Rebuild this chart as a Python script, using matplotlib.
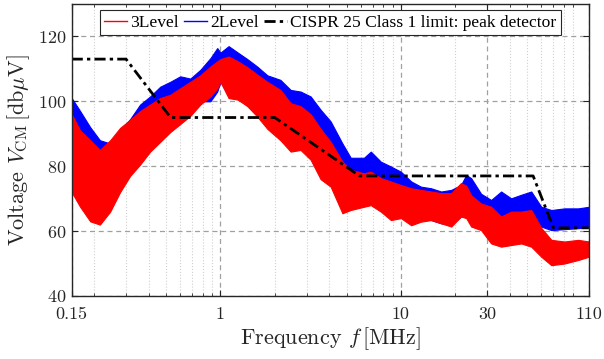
import matplotlib
matplotlib.use('Agg')
from matplotlib import pyplot as plt
from matplotlib.ticker import LogLocator, NullFormatter

plt.rcParams['font.family'] = 'serif'
plt.rcParams['font.serif'] = ['cmr10', 'DejaVu Serif']
plt.rcParams['mathtext.fontset'] = 'cm'
plt.rcParams['axes.formatter.use_mathtext'] = True

# frequency grid (MHz) at which the envelopes were read
freq = [0.15, 0.167, 0.19, 0.215, 0.245, 0.278, 0.316, 0.359, 0.408, 0.464,
        0.527, 0.599, 0.681, 0.774, 0.88, 0.96, 1.0, 1.11, 1.25, 1.41,
        1.6, 1.82, 2.15, 2.45, 2.78, 3.16, 3.59, 4.08, 4.74, 5.27,
        6.24, 6.81, 7.74, 8.8, 10, 11.4, 12.9, 14.7, 16.7, 19.0,
        21.5, 23.0, 24.5, 27.8, 31.6, 35.9, 40.8, 46.4, 52.7, 59.9,
        68.1, 80.5, 96, 110]

# 2Level (blue) upper / lower envelope, dBuV
blue_hi = [101, 97, 92, 88, 87, 91, 94.5, 99, 101.5, 104.5,
           106, 107.7, 107, 109.7, 113.3, 116.4, 115, 117, 115, 113,
           110.7, 108, 106.6, 103.5, 103, 101.5, 97.4, 93.8, 87, 82.6,
           82.6, 84.5, 81.4, 79.9, 78.3, 75.3, 73.7, 73.2, 72.2, 72.7,
           74.2, 77.3, 76.3, 71.5, 69.6, 72.2, 70.1, 71.2, 72.2, 67.5,
           66.5, 67, 67, 67.5]
blue_lo = [74, 69, 68, 70, 72, 75, 79, 83, 86, 89,
           92, 94, 97, 100, 100, 103, 106, 102, 102, 100,
           97, 94, 92, 88, 88, 85, 80, 77, 72, 70,
           70, 70, 68, 66, 66, 64, 64, 63.4, 62.4, 62,
           64.5, 65, 64.5, 61, 62, 62, 62, 62, 62, 61.4,
           60.3, 60.6, 60.9, 61.4]

# 3Level (red) upper / lower envelope, dBuV
red_hi = [96, 91, 88, 85, 88, 91.8, 94.3, 97, 99, 101,
          102, 104, 106, 108, 110.7, 112.3, 113, 113.8, 112.3, 110.5,
          108.2, 106, 103.5, 99.4, 98.5, 96, 91.5, 87.5, 81.4, 78.9,
          77.8, 78.3, 76.3, 75.3, 74.2, 73.2, 72.7, 72.2, 71.7, 71.7,
          74.8, 74, 71, 68.5, 67.5, 64.5, 66, 66, 66.5, 61,
          57.3, 56.8, 57.3, 56.8]
red_lo = [72, 67.5, 63, 62, 66, 72, 77, 80.5, 84.5, 87.5,
          90.5, 93, 95.5, 99, 101.5, 104, 106, 101, 100.5, 98.5,
          95.3, 91.5, 88, 84.5, 85, 82, 76, 73.7, 65.5, 66.5,
          67.5, 68, 66, 63.4, 64, 61.8, 62.9, 63.4, 62.4, 61.4,
          64.5, 64, 61.4, 60.3, 56.2, 55.2, 55.7, 56.2, 55.2, 52.1,
          49.5, 50, 51.1, 52.1]

# CISPR 25 class 1 peak limit
lim_f = [0.15, 0.3, 0.53, 2.0, 5.9, 54, 70, 110]
lim_v = [113, 113, 95, 95, 77, 77, 61, 61]

xticks = [0.15, 1, 10, 30, 110]
xticklabels = ['0.15', '1', '10', '30', '110']
yticks = [40, 60, 80, 100, 120]

fig = plt.figure(figsize=(6.04, 3.59), dpi=100)
ax = fig.add_axes([0.1187, 0.1755, 0.8563, 0.8135])

ax.fill_between(freq, blue_lo, blue_hi, color='#0000ff', lw=0.8, edgecolor='#0000ff')
ax.fill_between(freq, red_lo, red_hi, color='#ff0000', lw=0.8, edgecolor='#ff0000')
l_red, = ax.plot([], [], color='#ff0000', lw=1)
l_blue, = ax.plot([], [], color='#0000ff', lw=1)
l_lim, = ax.plot(lim_f, lim_v, color='k', lw=2, ls='-.', dashes=(4, 1.5, 1.2, 1.5))

ax.set_xscale('log')
ax.set_xlim(0.15, 110)
ax.set_ylim(40, 130)
ax.set_xticks(xticks)
ax.set_xticklabels(xticklabels)
ax.xaxis.set_minor_locator(LogLocator(base=10, subs=range(2, 10), numticks=20))
ax.xaxis.set_minor_formatter(NullFormatter())
ax.set_yticks(yticks)

ax.grid(True, which='major', ls='--', color='#a0a0a0', lw=0.9, dashes=(4, 3))
ax.grid(True, which='minor', axis='x', ls=':', color='#d0d0d0', lw=0.8)
ax.set_axisbelow(True)

ax.tick_params(which='both', direction='in', top=True, right=True, colors='#262626', labelsize=13)
ax.tick_params(which='major', length=4, width=0.8)
ax.tick_params(which='minor', length=2.5, width=0.6)
ax.tick_params(axis='x', which='major', pad=8)
ax.tick_params(axis='y', which='major', pad=4)
for tl in ax.get_xticklabels() + ax.get_yticklabels():
    tl.set_color('#262626')
for s in ax.spines.values():
    s.set_color('#262626')
    s.set_linewidth(1.0)

ax.set_xlabel(r'Frequency $f\,[\mathrm{MHz}]$', fontsize=16, color='#262626', labelpad=2)
ax.set_ylabel(r'Voltage $V_{\mathrm{CM}}\,[\mathrm{db}\mu\mathrm{V}]$', fontsize=16, color='#262626', labelpad=4)

leg = ax.legend([l_red, l_blue, l_lim], ['3Level', '2Level', 'CISPR 25 Class 1 limit: peak detector'],
                loc='upper center', ncol=3, fancybox=False, framealpha=1,
                edgecolor='#262626', handlelength=1.3, handletextpad=0.2, columnspacing=0.3,
                borderpad=0.25, borderaxespad=0.35, prop={'family': 'Liberation Serif', 'size': 12.6})
leg.get_frame().set_linewidth(0.8)

plt.savefig('out.png', dpi=100)
